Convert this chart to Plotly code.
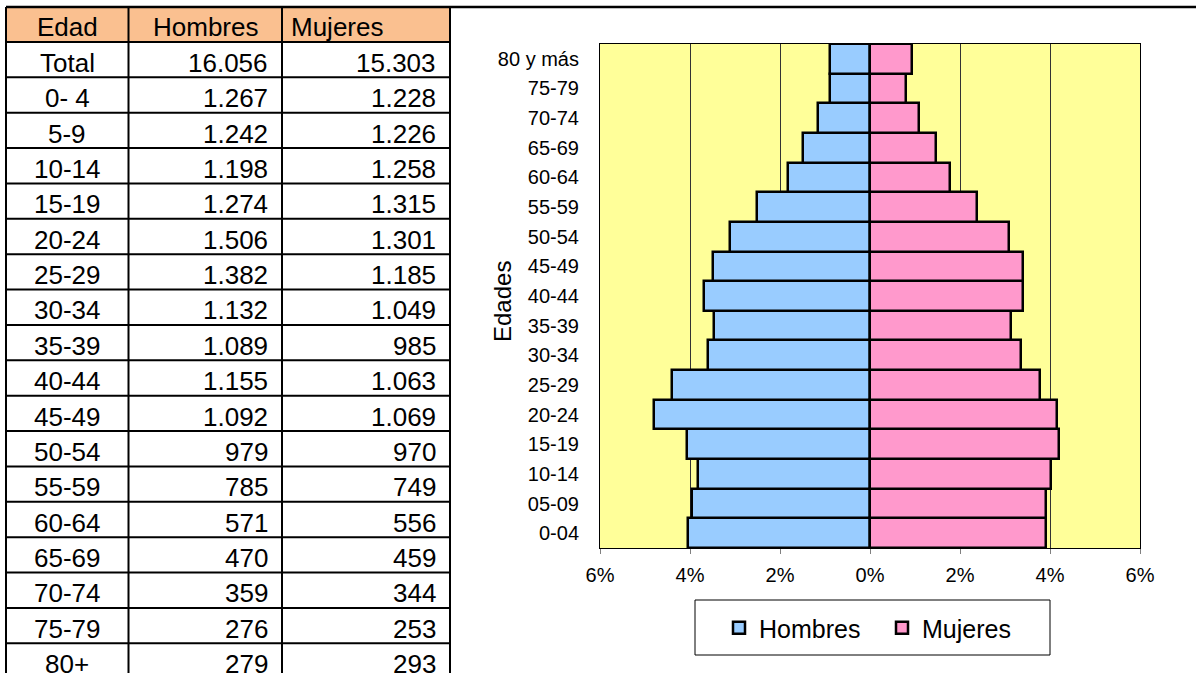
import plotly.graph_objects as go

# ---------------- data ----------------
table_ages = ["0- 4", "5-9", "10-14", "15-19", "20-24", "25-29", "30-34", "35-39",
              "40-44", "45-49", "50-54", "55-59", "60-64", "65-69", "70-74", "75-79", "80+"]
chart_ages = ["0-04", "05-09", "10-14", "15-19", "20-24", "25-29", "30-34", "35-39",
              "40-44", "45-49", "50-54", "55-59", "60-64", "65-69", "70-74", "75-79", "80 y más"]
hombres = [1267, 1242, 1198, 1274, 1506, 1382, 1132, 1089, 1155, 1092, 979, 785, 571, 470, 359, 276, 279]
mujeres = [1228, 1226, 1258, 1315, 1301, 1185, 1049, 985, 1063, 1069, 970, 749, 556, 459, 344, 253, 293]
total_hombres = 16056
total_mujeres = 15303
headers = ["Edad", "Hombres", "Mujeres"]
x_tickvals = [-6, -4, -2, 0, 2, 4, 6]
x_ticktext = ["6%", "4%", "2%", "0%", "2%", "4%", "6%"]

W, H = 1196, 673
FONT = "Liberation Sans, Arial, sans-serif"


def px(x):
    return x / W


def py(y):
    return 1 - y / H


def fmt(n):
    return f"{n:,}".replace(",", ".")


grand_total = total_hombres + total_mujeres
h_pct = [-v / grand_total * 100 for v in hombres]
m_pct = [v / grand_total * 100 for v in mujeres]

fig = go.Figure()
fig.add_trace(go.Bar(y=chart_ages, x=h_pct, orientation="h", name="Hombres",
                     marker=dict(color="#99CCFF", line=dict(color="black", width=2.5))))
fig.add_trace(go.Bar(y=chart_ages, x=m_pct, orientation="h", name="Mujeres",
                     marker=dict(color="#FF99CC", line=dict(color="black", width=2.5))))

shapes = []
annotations = []

# ---------------- table ----------------
col_x = [6, 128.5, 282, 450]
top = 7
head_bot = 42
row_h = 35.37
n_rows = 1 + len(table_ages)
table_bot = head_bot + n_rows * row_h

shapes.append(dict(type="rect", xref="paper", yref="paper",
                   x0=px(col_x[0]), x1=px(col_x[-1]), y0=py(head_bot), y1=py(top),
                   fillcolor="#FAC090", line=dict(width=0), layer="below"))
# top line spanning the width
shapes.append(dict(type="line", xref="paper", yref="paper",
                   x0=px(col_x[0]), x1=1, y0=py(top), y1=py(top),
                   line=dict(color="black", width=2.5)))
# horizontal row lines
for k in range(n_rows + 1):
    yy = head_bot + k * row_h
    shapes.append(dict(type="line", xref="paper", yref="paper",
                       x0=px(col_x[0]), x1=px(col_x[-1]), y0=py(yy), y1=py(yy),
                       line=dict(color="black", width=2)))
# vertical lines
for cx in col_x:
    shapes.append(dict(type="line", xref="paper", yref="paper",
                       x0=px(cx), x1=px(cx), y0=py(top), y1=py(table_bot),
                       line=dict(color="black", width=2)))

tfont = dict(family=FONT, size=26, color="black")
# headers
head_pos = [((col_x[0] + col_x[1]) / 2, "center"), ((col_x[1] + col_x[2]) / 2, "center"),
            (col_x[2] + 7, "left")]
for (hx, anc), txt in zip(head_pos, headers):
    annotations.append(dict(text=txt, x=px(hx), y=py(head_bot - 15), xref="paper", yref="paper",
                            xanchor=anc, yanchor="middle", showarrow=False, font=tfont))

rows = [("Total", total_hombres, total_mujeres)] + list(zip(table_ages, hombres, mujeres))
for k, (lab, hv, mv) in enumerate(rows):
    yb = head_bot + (k + 1) * row_h
    yc = yb - 14.5
    annotations.append(dict(text=lab, x=px((col_x[0] + col_x[1]) / 2), y=py(yc), xref="paper",
                            yref="paper", xanchor="center", yanchor="middle", showarrow=False, font=tfont))
    annotations.append(dict(text=fmt(hv), x=px(col_x[2] - 12), y=py(yc), xref="paper",
                            yref="paper", xanchor="right", yanchor="middle", showarrow=False, font=tfont))
    annotations.append(dict(text=fmt(mv), x=px(col_x[3] - 12), y=py(yc), xref="paper",
                            yref="paper", xanchor="right", yanchor="middle", showarrow=False, font=tfont))

# ---------------- chart extras ----------------
annotations.append(dict(text="Edades", x=px(502), y=py(302), xref="paper", yref="paper",
                        textangle=-90, xanchor="center", yanchor="middle", showarrow=False,
                        font=dict(family=FONT, size=24, color="black")))
# legend box
shapes.append(dict(type="rect", xref="paper", yref="paper",
                   x0=px(695), x1=px(1050), y0=py(655), y1=py(600),
                   line=dict(color="black", width=1), fillcolor="rgba(0,0,0,0)"))

fig.update_layout(
    width=W, height=H, autosize=False,
    margin=dict(l=0, r=0, t=0, b=0, pad=0, autoexpand=False),
    paper_bgcolor="white", plot_bgcolor="#FFFF99",
    barmode="overlay", bargap=0,
    font=dict(family=FONT, color="black"),
    shapes=shapes, annotations=annotations,
    showlegend=True,
    legend=dict(orientation="h", x=px(882), y=py(628), xanchor="center", yanchor="middle",
                font=dict(family=FONT, size=25, color="black"), bgcolor="rgba(0,0,0,0)",
                borderwidth=0, itemwidth=30, traceorder="normal", entrywidth=118),
    xaxis=dict(domain=[px(600), px(1140)], range=[-6, 6], tickvals=x_tickvals, ticktext=x_ticktext,
               showgrid=True, gridcolor="#333333", gridwidth=1, zeroline=False,
               showline=True, linecolor="black", linewidth=1, mirror=True,
               ticks="outside", ticklen=5, tickcolor="#808080", ticklabelstandoff=4,
               tickfont=dict(family=FONT, size=20, color="black"), fixedrange=True,
               automargin=False),
    yaxis=dict(domain=[py(548), py(44)], type="category", categoryorder="array",
               categoryarray=chart_ages, showgrid=False, zeroline=False,
               showline=True, linecolor="black", linewidth=1, mirror=True,
               ticks="", ticklabelstandoff=16,
               tickfont=dict(family=FONT, size=20, color="black"), fixedrange=True,
               automargin=False),
)

fig.write_html("out.html", config={"displayModeBar": False},
               post_script="document.body.style.margin='0';document.body.style.overflow='hidden';")
